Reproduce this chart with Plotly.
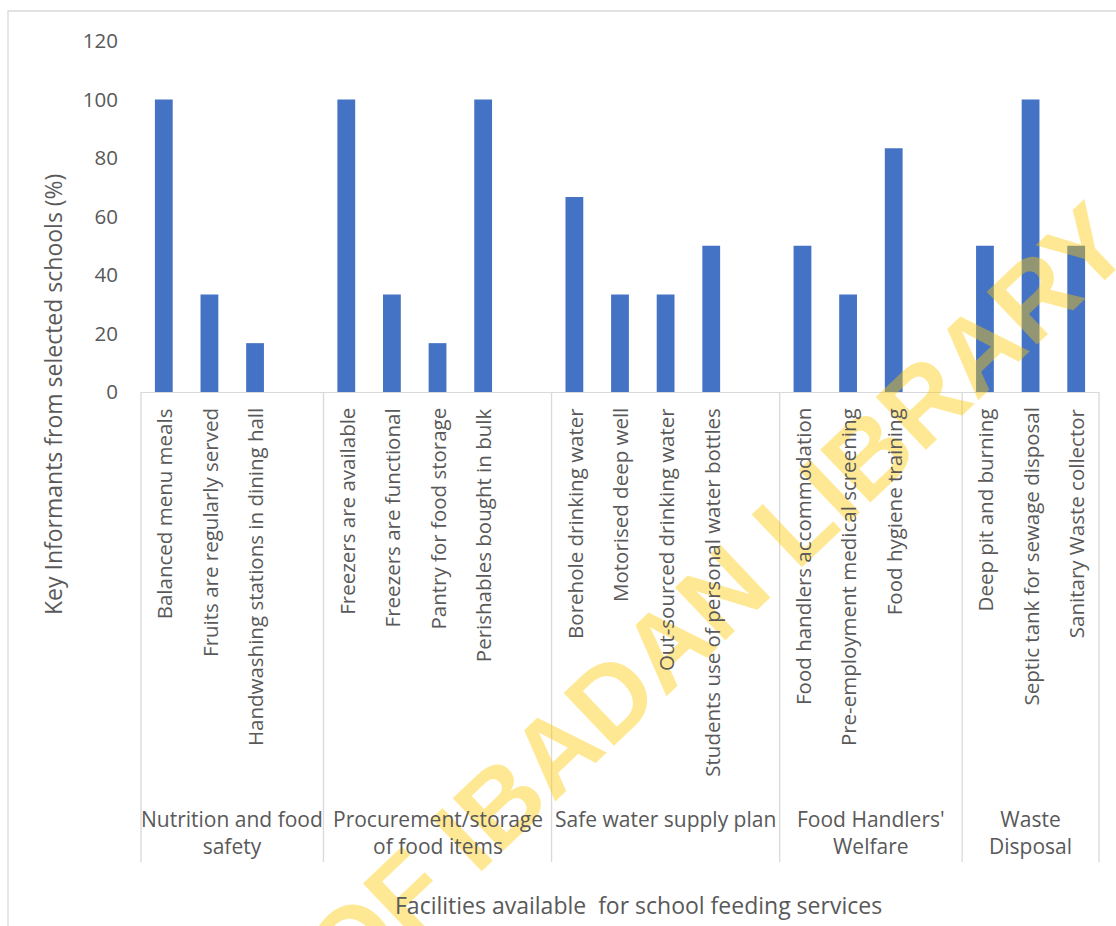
import plotly.graph_objects as go

# Facility groups and the items surveyed in each (percent of key informants)
group_names = [
    "Nutrition and food<br>safety",
    "Procurement/storage<br>of food items",
    "Safe water supply plan",
    "Food Handlers'<br>Welfare",
    "Waste<br>Disposal",
]
nutrition_items = ["Balanced menu meals", "Fruits are regularly served",
                   "Handwashing stations in dining hall"]
nutrition_values = [100, 33.3, 16.7]
procurement_items = ["Freezers are available", "Freezers are functional",
                     "Pantry for food storage", "Perishables bought in bulk"]
procurement_values = [100, 33.3, 16.7, 100]
water_items = ["Borehole drinking water", "Motorised deep well",
               "Out-sourced drinking water", "Students use of personal water bottles"]
water_values = [66.7, 33.3, 33.3, 50]
welfare_items = ["Food handlers accommodation", "Pre-employment medical screening",
                 "Food hygiene training"]
welfare_values = [50, 33.3, 83.3]
waste_items = ["Deep pit and burning", "Septic tank for sewage disposal",
               "Sanitary Waste collector"]
waste_values = [50, 100, 50]

y_ticks = [0, 20, 40, 60, 80, 100, 120]
y_title = "Key Informants from selected schools (%)"
x_title = "Facilities available\u00a0 for school feeding services"
watermark = "OF IBADAN LIBRARY"

group_items = [nutrition_items, procurement_items, water_items, welfare_items, waste_items]
group_values = [nutrition_values, procurement_values, water_values, welfare_values, waste_values]

BAR = "#4472C4"
TXT = "#595959"
LINE = "#D9D9D9"
FONT = "Open Sans"

# Canvas / plot-area geometry in pixels
W, H = 1116, 926
PL, PR, PT, PB = 141, 1099, 41, 392


def px_x(px):
    return (px - PL) / (PR - PL)


def px_y(py):
    return (PB - py) / (PB - PT)


# Slot layout: one slot per item, plus a blank slot closing every group but the last
xs, labels, vals = [], [], []
group_spans = []
slot = 0
for gi, (items, values) in enumerate(zip(group_items, group_values)):
    start = slot
    for it, v in zip(items, values):
        xs.append(slot)
        labels.append(it)
        vals.append(v)
        slot += 1
    if gi < len(group_items) - 1:
        slot += 1
    group_spans.append((start, slot))
n_slots = slot

fig = go.Figure(go.Bar(
    x=xs, y=vals, width=0.39,
    marker=dict(color=BAR, line=dict(width=0)),
    hovertext=labels, hoverinfo="text+y",
))

annotations = []
# translucent diagonal library watermark (under the text labels)
annotations.append(dict(
    text="<b>" + watermark + "</b>", xref="paper", yref="paper",
    x=px_x(716), y=px_y(598), showarrow=False, textangle=-43.5,
    font=dict(family="Liberation Sans", size=106, color="rgba(255,200,0,0.42)"),
    xanchor="center", yanchor="middle",
))

# rotated item labels under each bar
for x, lab in zip(xs, labels):
    annotations.append(dict(
        text=lab, xref="x", yref="paper", x=x, y=px_y(406),
        showarrow=False, textangle=-90, xanchor="center", yanchor="top",
        font=dict(family=FONT, size=20.5, color=TXT),
    ))

shapes = []
sep_bottom = px_y(862)
bounds = [group_spans[0][0]] + [e for _, e in group_spans]
for b in bounds:
    xp = b / n_slots
    shapes.append(dict(type="line", xref="paper", yref="paper",
                       x0=xp, x1=xp, y0=0, y1=sep_bottom,
                       line=dict(color=LINE, width=1.3)))

# group labels centred under their spans
for name, (s, e) in zip(group_names, group_spans):
    annotations.append(dict(
        text=name, xref="paper", yref="paper",
        x=(s + e) / 2 / n_slots, y=px_y(803),
        showarrow=False, xanchor="center", yanchor="top", align="center",
        font=dict(family=FONT, size=21, color=TXT),
    ))

# axis titles
annotations.append(dict(
    text=x_title, xref="paper", yref="paper", x=px_x(638), y=px_y(905),
    showarrow=False, xanchor="center", yanchor="middle",
    font=dict(family=FONT, size=23, color=TXT),
))
annotations.append(dict(
    text=y_title, xref="paper", yref="paper", x=px_x(53), y=px_y(395),
    showarrow=False, textangle=-90, xanchor="center", yanchor="middle",
    font=dict(family=FONT, size=23, color=TXT),
))

# chart-area frame
shapes.append(dict(type="rect", xref="paper", yref="paper",
                   x0=px_x(8), x1=px_x(1200), y0=px_y(11), y1=px_y(1000),
                   line=dict(color=LINE, width=1.3), fillcolor="rgba(0,0,0,0)",
                   layer="below"))

fig.update_layout(
    width=W, height=H,
    margin=dict(l=PL, r=W - PR, t=PT, b=H - PB, pad=0),
    paper_bgcolor="white", plot_bgcolor="white",
    showlegend=False,
    xaxis=dict(range=[-0.5, n_slots - 0.5], showticklabels=False, ticks="",
               showgrid=False, zeroline=False, showline=True,
               linecolor=LINE, linewidth=1.3, fixedrange=True),
    yaxis=dict(range=[0, 120], tickvals=y_ticks, showgrid=False, zeroline=False,
               showline=False, ticks="", ticklabelstandoff=22,
               tickfont=dict(family=FONT, size=20.5, color=TXT), fixedrange=True),
    annotations=annotations,
    shapes=shapes,
)

fig.write_html("out.html")
